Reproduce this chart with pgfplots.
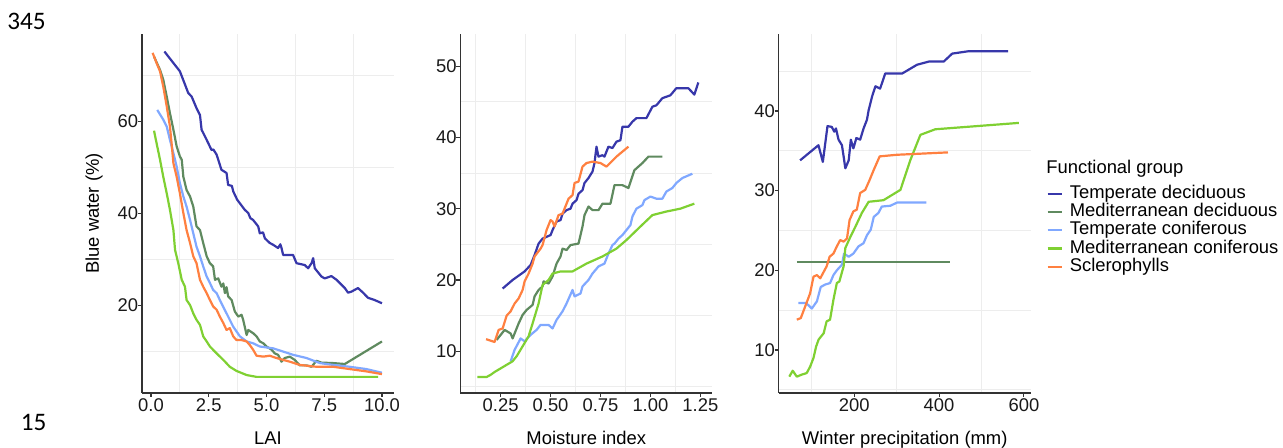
\documentclass[border=0pt]{standalone}
\usepackage{pgfplots}
\pgfplotsset{compat=1.18}
\usepackage{fontspec}
\setmainfont{Liberation Sans}
\newfontfamily\calibri{Carlito}
\newcommand\tickfont{\fontsize{9.2pt}{11pt}\selectfont}
\definecolor{tdec}{RGB}{55,55,170}
\definecolor{mdec}{RGB}{95,138,95}
\definecolor{tcon}{RGB}{128,168,255}
\definecolor{mcon}{RGB}{127,208,50}
\definecolor{scl}{RGB}{255,128,64}
\pgfplotsset{
 panel/.style={
  scale only axis, width=126pt, height=179.5pt,
  axis x line*=bottom, axis y line*=left,
  axis line style={draw=black!80, line width=0.55pt, -},
  tick align=outside, major tick length=2pt, minor tick length=0pt,
  tick style={draw=black!80, line width=0.55pt},
  grid=minor, minor grid style={draw=black!7, line width=0.5pt},
  ticklabel style={font=\tickfont, text=black!90, inner sep=0.7pt},
  yticklabel style={xshift=1pt},
  /pgf/number format/assume math mode=true,
  every axis x label/.style={at={(axis description cs:0.5,0)}, anchor=base, yshift=-26pt, font=\tickfont},
  every axis y label/.style={at={(axis description cs:-0.1905,0.5)}, rotate=90, anchor=center, font=\tickfont},
  every axis plot/.append style={line width=1.1pt, line join=round},
 }
}
\begin{document}
\begin{tikzpicture}
\useasboundingbox (0,0) rectangle (641.5pt,224pt);
\node[anchor=west, inner sep=0pt, font=\calibri\fontsize{12.6pt}{14pt}\selectfont] at (3.5pt,213.3pt) {345};
\node[anchor=west, inner sep=0pt, font=\calibri\fontsize{12.6pt}{14pt}\selectfont] at (10.2pt,13pt) {15};

% Panel 1: LAI
\begin{axis}[panel, at={(71pt,27.5pt)}, anchor=south west,
  xmin=-0.39, xmax=10.52, ymin=1, ymax=79,
  xtick={0,2.5,5,7.5,10}, xticklabels={0.0,2.5,5.0,7.5,10.0},
  ytick={20,40,60},
  minor xtick={1.25,3.75,6.25,8.75}, minor ytick={10,30,50,70},
  xlabel={LAI}, ylabel={Blue water (\%)}]
\addplot[tdec] coordinates {(0.58,75.2)(1.25,70.9)(1.45,68.3)(1.61,66.2)(1.76,65.4)(1.97,62.9)(2.12,61.4)(2.19,58.2)(2.41,56.0)(2.62,53.8)(2.7,53.9)(2.84,52.8)(3.05,49.5)(3.27,48.8)(3.34,46.2)(3.5,46.0)(3.56,44.8)(3.73,43.0)(3.85,42.2)(4.06,40.8)(4.21,40.1)(4.3,39.0)(4.42,38.6)(4.64,37.2)(4.71,35.7)(4.85,35.9)(4.93,34.6)(5.14,33.6)(5.29,33.2)(5.50,32.5)(5.6,33.3)(5.65,32.5)(5.72,31.0)(6.15,31.0)(6.30,29.2)(6.66,28.8)(6.80,28.1)(6.95,29.2)(7.02,30.3)(7.09,28.1)(7.38,26.3)(7.52,25.9)(7.81,26.4)(8.03,25.6)(8.39,23.8)(8.53,22.8)(8.67,23.0)(8.96,23.8)(9.18,22.8)(9.39,21.7)(9.68,21.2)(10.0,20.5)};
\addplot[mdec] coordinates {(0.13,74.1)(0.39,71.2)(0.53,69.1)(0.68,65.4)(0.82,61.8)(0.97,58.2)(1.11,54.6)(1.25,52.4)(1.33,51.7)(1.40,48.0)(1.54,45.1)(1.69,43.7)(1.83,41.5)(1.97,37.2)(2.12,36.4)(2.26,33.6)(2.41,30.7)(2.55,29.2)(2.69,28.5)(2.77,25.6)(2.91,25.9)(3.05,24.1)(3.13,24.8)(3.20,22.7)(3.27,24.0)(3.34,22.0)(3.49,21.2)(3.63,18.7)(3.78,17.6)(3.92,18.0)(3.99,16.9)(4.14,13.6)(4.21,14.7)(4.42,14.0)(4.57,13.3)(4.71,12.2)(4.86,11.8)(5.0,11.1)(5.22,10.4)(5.36,9.6)(5.50,9.3)(5.65,7.8)(5.79,8.6)(6.01,8.9)(6.22,8.2)(6.44,7.0)(6.73,7.0)(6.95,6.7)(7.16,8.0)(7.38,7.6)(7.88,7.5)(8.39,7.3)(10.0,12.2)};
\addplot[tcon] coordinates {(0.27,62.5)(0.53,60.4)(0.68,58.9)(0.82,56.0)(0.97,53.1)(1.11,50.2)(1.25,46.6)(1.40,43.7)(1.54,41.5)(1.69,38.6)(1.83,35.7)(1.97,32.8)(2.12,30.7)(2.26,28.5)(2.41,26.3)(2.55,24.9)(2.69,23.4)(2.84,22.7)(2.98,21.2)(3.27,18.3)(3.56,15.4)(3.85,13.3)(4.14,12.2)(4.42,11.8)(4.71,11.1)(5.0,10.9)(5.29,10.7)(5.72,10.0)(6.15,9.3)(6.73,8.6)(7.31,7.5)(7.88,7.1)(8.60,6.7)(9.32,6.2)(10.0,5.4)};
\addplot[mcon] coordinates {(0.13,58.0)(0.24,55.3)(0.39,51.7)(0.53,48.0)(0.68,44.4)(0.82,40.8)(0.97,36.4)(1.04,32.1)(1.18,29.2)(1.33,25.6)(1.47,24.1)(1.54,21.2)(1.69,20.1)(1.83,18.3)(1.97,16.9)(2.12,15.8)(2.26,13.3)(2.41,12.2)(2.55,11.1)(2.84,9.6)(3.13,8.2)(3.41,6.7)(3.70,5.8)(4.14,4.9)(4.57,4.5)(9.83,4.5)};
\addplot[scl] coordinates {(0.07,74.9)(0.24,72.7)(0.39,70.9)(0.53,67.6)(0.68,63.3)(0.82,58.9)(0.89,55.3)(0.97,50.9)(1.11,48.0)(1.25,44.4)(1.40,40.1)(1.54,36.4)(1.69,33.6)(1.83,30.7)(1.97,29.2)(2.12,25.6)(2.26,24.1)(2.41,22.7)(2.55,21.2)(2.69,19.8)(2.84,19.1)(2.98,17.6)(3.13,16.2)(3.27,14.7)(3.41,15.1)(3.56,13.3)(3.70,12.5)(3.92,12.5)(4.14,12.2)(4.28,11.4)(4.42,10.4)(4.57,9.1)(4.86,8.9)(5.14,9.1)(5.43,8.6)(5.72,8.2)(6.01,7.8)(6.44,7.1)(7.16,6.7)(7.88,6.7)(8.60,6.2)(9.32,5.7)(10.0,5.1)};
\end{axis}

% Panel 2: Moisture index
\begin{axis}[panel, at={(230.15pt,27.5pt)}, anchor=south west,
  xmin=0.048, xmax=1.31, ymin=4.15, ymax=54.5,
  xtick={0.25,0.5,0.75,1,1.25}, xticklabels={0.25,0.50,0.75,1.00,1.25},
  ytick={10,20,30,40,50},
  minor xtick={0.125,0.375,0.625,0.875,1.125}, minor ytick={5,15,25,35,45},
  xlabel={Moisture index}]
\addplot[tdec] coordinates {(0.26,18.8)(0.31,20.0)(0.37,21.2)(0.40,22.1)(0.42,23.5)(0.44,25.1)(0.46,25.8)(0.50,26.3)(0.51,27.0)(0.53,28.2)(0.55,28.4)(0.56,29.3)(0.58,29.8)(0.60,30.0)(0.61,30.7)(0.63,31.2)(0.64,32.1)(0.66,32.6)(0.67,33.6)(0.69,34.3)(0.71,35.2)(0.72,36.4)(0.73,38.7)(0.74,37.3)(0.76,37.5)(0.77,37.3)(0.79,38.7)(0.81,38.5)(0.83,39.4)(0.85,39.6)(0.86,41.5)(0.89,41.5)(0.91,42.2)(0.93,42.7)(0.98,42.7)(1.01,44.3)(1.03,44.5)(1.06,45.5)(1.10,45.9)(1.13,46.9)(1.19,46.9)(1.22,46.0)(1.24,47.7)};
\addplot[mdec] coordinates {(0.23,11.6)(0.27,13.0)(0.30,12.5)(0.31,11.8)(0.34,13.9)(0.36,15.1)(0.38,15.8)(0.41,16.5)(0.42,17.7)(0.44,18.6)(0.46,19.1)(0.465,19.8)(0.49,19.5)(0.51,20.5)(0.52,21.4)(0.53,22.3)(0.55,23.3)(0.56,24.4)(0.58,24.2)(0.60,24.9)(0.64,25.1)(0.66,27.5)(0.67,29.1)(0.69,30.3)(0.71,29.8)(0.74,29.8)(0.76,30.7)(0.80,30.7)(0.82,33.3)(0.86,33.3)(0.89,32.9)(0.92,35.4)(0.96,36.4)(0.99,37.3)(1.03,37.3)(1.06,37.3)};
\addplot[tcon] coordinates {(0.30,8.6)(0.32,10.2)(0.35,11.8)(0.37,11.4)(0.40,12.3)(0.43,13.0)(0.45,13.7)(0.49,13.7)(0.51,13.2)(0.53,14.4)(0.56,15.6)(0.58,16.7)(0.61,18.6)(0.62,17.7)(0.65,18.1)(0.66,19.1)(0.69,20.0)(0.71,20.9)(0.74,21.9)(0.77,22.3)(0.79,23.7)(0.81,24.9)(0.82,25.1)(0.84,25.8)(0.86,26.3)(0.88,27.0)(0.90,27.7)(0.91,28.9)(0.93,30.0)(0.96,30.5)(0.97,31.2)(1.00,31.7)(1.03,31.4)(1.06,31.4)(1.08,32.4)(1.11,32.9)(1.13,33.6)(1.16,34.3)(1.21,34.9)};
\addplot[mcon] coordinates {(0.133,6.4)(0.18,6.4)(0.20,6.7)(0.22,7.1)(0.25,7.6)(0.28,8.1)(0.31,8.6)(0.33,9.3)(0.36,10.7)(0.39,12.1)(0.41,13.9)(0.44,16.7)(0.46,19.3)(0.49,20.0)(0.51,20.9)(0.55,21.2)(0.61,21.2)(0.68,22.3)(0.76,23.3)(0.83,24.4)(0.88,25.6)(0.95,27.5)(1.01,29.1)(1.08,29.6)(1.15,30.0)(1.22,30.7)};
\addplot[scl] coordinates {(0.177,11.7)(0.22,11.3)(0.24,13.0)(0.26,13.2)(0.28,15.0)(0.30,15.6)(0.32,16.7)(0.34,17.4)(0.36,18.6)(0.37,19.8)(0.39,20.9)(0.41,22.3)(0.42,23.3)(0.45,24.4)(0.46,24.9)(0.48,27.0)(0.50,28.4)(0.51,28.2)(0.52,27.5)(0.54,29.1)(0.56,29.3)(0.59,31.4)(0.61,31.9)(0.62,33.6)(0.64,33.8)(0.66,35.9)(0.68,36.4)(0.71,36.6)(0.75,36.4)(0.78,35.9)(0.83,37.3)(0.89,38.7)};
\end{axis}

% Panel 3: Winter precipitation
\begin{axis}[panel, at={(389.35pt,27.5pt)}, anchor=south west,
  xmin=22, xmax=616, ymin=4.6, ymax=49.66,
  xtick={200,400,600}, ytick={10,20,30,40},
  minor xtick={100,300,500}, minor ytick={5,15,25,35,45},
  xlabel={Winter precipitation (mm)},
  legend style={draw=none, fill=none, at={(rel axis cs:1.0607,0.581)}, anchor=north west,
    font=\tickfont, inner sep=0pt, row sep=0pt, column sep=3.6pt,
    nodes={inner sep=0pt, text height=6.8pt, text depth=2.3pt}},
  legend cell align=left,
  legend image code/.code={\draw[#1, line width=1.1pt] (0pt,0pt) -- (7pt,0pt);}]
\addplot[tdec] coordinates {(72.4,33.8)(115.7,35.7)(126,33.6)(137,38.1)(147,38.0)(153,37.4)(157,37.8)(163,36.4)(171,35.7)(175,34.3)(179,32.8)(187,33.8)(192,36.4)(198,35.3)(205,36.6)(214,36.4)(222,37.8)(230,38.9)(234,40.1)(242,41.8)(250,43.1)(261,42.8)(273,44.7)(293,44.7)(313,44.7)(348,45.8)(376,46.2)(411,46.2)(431,47.2)(470,47.5)(563,47.5)};
\addlegendentry{Temperate deciduous}
\addplot[mdec] coordinates {(64.6,21.0)(425,21.0)};
\addlegendentry{Mediterranean deciduous}
\addplot[tcon] coordinates {(68.5,15.9)(86.6,15.9)(100,15.2)(112,16.1)(121,17.9)(131,18.2)(143,18.4)(151,19.4)(159,20.0)(171,20.7)(176,22.1)(187,21.7)(198,22.1)(210,23.0)(222,23.4)(230,24.4)(239,25.1)(246,26.7)(257,27.2)(265,28.0)(285,28.1)(301,28.5)(370,28.5)};
\addlegendentry{Temperate coniferous}
\addplot[mcon] coordinates {(47,6.65)(55,7.4)(64.6,6.65)(76,6.9)(88,7.1)(96,7.9)(104,9.0)(110,10.4)(116,11.3)(128,12.1)(135,13.6)(143,13.8)(151,16.3)(159,18.4)(165,18.6)(175,20.5)(179,22.8)(191,24.2)(203,25.5)(218,27.2)(234,28.6)(269,28.8)(309,30.1)(332,33.8)(356,37.0)(391,37.7)(588,38.5)};
\addlegendentry{Mediterranean coniferous}
\addplot[scl] coordinates {(64.6,13.8)(74,14.0)(84,15.4)(96,17.1)(104,19.2)(112,19.4)(120,19.0)(128,19.8)(135,20.5)(142,21.7)(151,22.1)(159,23.0)(167,23.8)(175,23.6)(183,24.0)(189,26.3)(198,27.4)(206,27.6)(214,29.7)(226,30.1)(236,31.3)(246,32.6)(260,34.3)(301,34.5)(421,34.8)};
\addlegendentry{Sclerophylls}
\end{axis}
\node[anchor=west, inner sep=0pt, font=\tickfont] at (523pt,139.5pt) {Functional group};
\end{tikzpicture}
\end{document}
